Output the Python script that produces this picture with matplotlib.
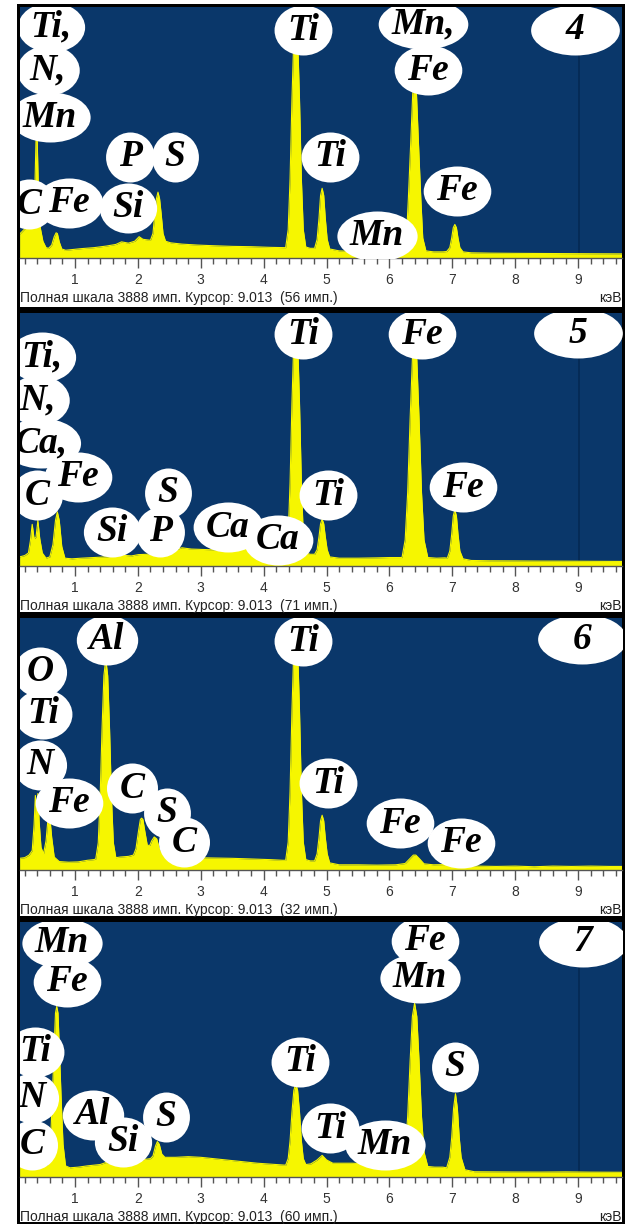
import matplotlib
matplotlib.use('Agg')
import matplotlib.pyplot as plt
from matplotlib.patches import Rectangle
from matplotlib.path import Path
from matplotlib.transforms import Affine2D
from matplotlib.ticker import MultipleLocator

plt.rcParams['font.family'] = ['Liberation Sans', 'DejaVu Sans']

# ---- спектры (энергия, кэВ / счёт, имп.) ----
energy_4 = [
    0.12, 0.17, 0.22, 0.27, 0.30,
    0.33, 0.36, 0.38, 0.39, 0.40, 0.42, 0.45,
    0.49, 0.54, 0.58, 0.63, 0.67, 0.70, 0.72, 0.75, 0.79,
    0.85, 0.95, 1.1, 1.3, 1.5, 1.65, 1.74, 1.85, 1.95, 2.02, 2.08, 2.15,
    2.20, 2.24, 2.27, 2.295, 2.32, 2.345, 2.37, 2.40, 2.44,
    2.52, 2.7, 2.95, 3.2, 3.5, 3.8, 4.1,
    4.35, 4.39, 4.42, 4.45, 4.48, 4.51, 4.54, 4.57, 4.60, 4.63, 4.67,
    4.74, 4.81, 4.85, 4.88, 4.905, 4.93, 4.955, 4.98, 5.01, 5.05,
    5.2, 5.5, 5.8, 6.0,
    6.22, 6.27, 6.30, 6.34, 6.37, 6.40, 6.43, 6.46, 6.50, 6.53, 6.58,
    6.7, 6.85, 6.91, 6.96, 6.99, 7.015, 7.04, 7.065, 7.09, 7.12, 7.17,
    7.3, 7.6, 8.0, 8.4, 8.8, 9.2, 9.69]
counts_4 = [
    370, 420, 470, 500, 480,
    520, 1000, 1800, 1950, 1800, 1000, 460,
    260, 160, 150, 200, 330, 390, 380, 250, 140,
    120, 130, 145, 160, 185, 210, 250, 230, 260, 330, 290, 280,
    275, 380, 690, 920, 1020, 920, 690, 380, 260,
    235, 215, 200, 190, 180, 175, 165,
    160, 440, 1220, 2460, 3420, 3700, 3420, 2460, 1220, 440, 170,
    150, 150, 290, 615, 970, 1080, 970, 615, 290, 140,
    110, 100, 105, 100,
    100, 310, 900, 1820, 2540, 2750, 2540, 1820, 900, 310, 110,
    95, 95, 100, 160, 310, 470, 520, 470, 310, 160, 95,
    80, 75, 72, 70, 68, 66, 64]

energy_5 = [
    0.12, 0.20, 0.26, 0.29, 0.32, 0.35, 0.38, 0.41, 0.44, 0.48,
    0.54, 0.60, 0.65, 0.69, 0.72, 0.75, 0.79, 0.84,
    0.95, 1.1, 1.3, 1.5, 1.74, 1.9, 2.01, 2.15, 2.31, 2.45,
    2.6, 2.7, 2.85, 3.0, 3.3, 3.5, 3.69, 3.85, 4.01, 4.2,
    4.35, 4.39, 4.42, 4.45, 4.48, 4.51, 4.54, 4.57, 4.60, 4.63, 4.67,
    4.74, 4.81, 4.85, 4.88, 4.905, 4.93, 4.955, 4.98, 5.01, 5.05,
    5.2, 5.5, 5.8, 6.0,
    6.20, 6.25, 6.29, 6.33, 6.365, 6.40, 6.435, 6.47, 6.51, 6.55, 6.61,
    6.75, 6.88, 6.92, 6.96, 6.99, 7.015, 7.04, 7.065, 7.09, 7.12, 7.17,
    7.3, 7.6, 8.0, 8.4, 8.8, 9.2, 9.69]
counts_5 = [
    140, 160, 200, 380, 640, 420, 440, 700, 420, 200,
    120, 140, 330, 700, 830, 700, 300, 120,
    110, 120, 130, 140, 165, 155, 175, 180, 200, 210,
    250, 280, 260, 255, 245, 240, 290, 235, 260, 210,
    205, 480, 1270, 2510, 3470, 3750, 3470, 2510, 1270, 480, 200,
    180, 180, 250, 450, 650, 720, 650, 450, 250, 140,
    120, 120, 125, 130,
    130, 400, 1130, 2290, 3180, 3450, 3180, 2290, 1130, 400, 130,
    120, 125, 120, 230, 490, 770, 860, 770, 490, 230, 110,
    85, 80, 78, 75, 74, 72, 70]

energy_6 = [
    0.12, 0.20, 0.27, 0.32, 0.35, 0.37, 0.39, 0.41, 0.43, 0.46,
    0.50, 0.54, 0.57, 0.60, 0.63, 0.67, 0.75, 0.90, 1.05, 1.2, 1.3,
    1.33, 1.37, 1.40, 1.43, 1.46, 1.49, 1.52, 1.55, 1.58, 1.61, 1.65,
    1.72, 1.85, 1.93, 1.97, 2.01, 2.04, 2.06, 2.08, 2.11, 2.15,
    2.19, 2.22, 2.26, 2.30, 2.35, 2.45, 2.6, 2.9, 3.2, 3.5, 3.8, 4.1, 4.3,
    4.35, 4.39, 4.42, 4.45, 4.48, 4.51, 4.54, 4.57, 4.60, 4.63, 4.67,
    4.74, 4.81, 4.85, 4.88, 4.905, 4.93, 4.955, 4.98, 5.01, 5.05,
    5.2, 5.5, 5.8, 6.1, 6.25, 6.32, 6.38, 6.42, 6.48, 6.55,
    6.7, 6.95, 7.05, 7.15, 7.4, 7.7, 8.0, 8.3, 8.6, 8.9, 9.2, 9.5, 9.69]
counts_6 = [
    180, 190, 230, 300, 700, 1150, 900, 1180, 750, 350,
    250, 450, 780, 820, 500, 200, 130, 120, 125, 150, 160,
    170, 420, 1120, 2170, 3000, 3250, 3000, 2170, 1120, 420, 190,
    200, 210, 230, 330, 600, 780, 800, 780, 600, 380,
    380, 450, 510, 480, 300, 220, 200, 190, 185, 180, 170, 160, 150,
    150, 430, 1210, 2460, 3420, 3700, 3420, 2460, 1210, 430, 160,
    140, 140, 250, 500, 760, 845, 760, 500, 250, 110,
    80, 80, 75, 80, 100, 170, 230, 230, 170, 95,
    80, 85, 100, 80, 60, 55, 60, 50, 60, 55, 60, 55, 55]

energy_7 = [
    0.12, 0.18, 0.23, 0.27, 0.30, 0.33, 0.38, 0.42, 0.46, 0.50, 0.55,
    0.57, 0.61, 0.64, 0.67, 0.69, 0.71, 0.73, 0.75, 0.78, 0.81, 0.85,
    0.92, 1.05, 1.2, 1.4, 1.49, 1.6, 1.74, 1.9, 2.05, 2.2,
    2.24, 2.28, 2.31, 2.34, 2.38, 2.43,
    2.6, 2.8, 3.0, 3.3, 3.6, 3.9, 4.2, 4.35,
    4.39, 4.42, 4.45, 4.48, 4.51, 4.54, 4.57, 4.60, 4.63, 4.67,
    4.75, 4.85, 4.93, 5.0, 5.1, 5.4, 5.7, 5.9, 6.1,
    6.20, 6.25, 6.29, 6.33, 6.365, 6.40, 6.435, 6.47, 6.51, 6.55, 6.61,
    6.72, 6.85, 6.91, 6.96, 6.99, 7.02, 7.05, 7.08, 7.11, 7.14, 7.20,
    7.35, 7.7, 8.0, 8.4, 8.8, 9.2, 9.69]
counts_7 = [
    210, 240, 260, 330, 360, 270, 300, 340, 280, 200, 180,
    200, 500, 1200, 2000, 2500, 2600, 2500, 2000, 1200, 500, 170,
    140, 150, 170, 190, 220, 210, 240, 250, 260, 280,
    320, 470, 540, 500, 350, 300,
    300, 310, 300, 270, 240, 210, 190, 180,
    280, 550, 990, 1320, 1420, 1320, 990, 550, 280, 190,
    200, 260, 330, 260, 210, 210, 200, 210, 200,
    180, 380, 920, 1790, 2450, 2650, 2450, 1790, 920, 380, 160,
    150, 150, 140, 300, 600, 1050, 1270, 1050, 600, 300, 110,
    80, 78, 76, 75, 78, 74, 72]

# подписи элементов: (текст, кэВ, имп.)
labels_4 = [('Ti,', 0.62, 3580), ('N,', 0.57, 2912), ('Mn', 0.60, 2184),
            ('C', 0.27, 836), ('Fe', 0.905, 852), ('Si', 1.84, 775),
            ('P', 1.875, 1565), ('S', 2.59, 1565), ('Ti', 4.627, 3530),
            ('Ti', 5.056, 1565), ('Mn', 5.80, 341), ('Mn,', 6.535, 3620),
            ('Fe', 6.615, 2912), ('Fe', 7.076, 1038)]
labels_5 = [('Ti,', 0.476, 3212), ('N,', 0.412, 2551), ('Ca,', 0.46, 1891),
            ('C', 0.396, 1091), ('Fe', 1.048, 1368), ('Si', 1.589, 523),
            ('P', 2.352, 523), ('S', 2.479, 1122), ('Ca', 3.434, 599),
            ('Ca', 4.229, 400), ('Ti', 4.627, 3560), ('Ti', 5.024, 1091),
            ('Fe', 6.519, 3560), ('Fe', 7.171, 1214)]
labels_6 = [('O', 0.444, 3055), ('Ti', 0.491, 2407), ('N', 0.444, 1620),
            ('Fe', 0.905, 1034), ('Al', 1.509, 3549), ('C', 1.907, 1265),
            ('S', 2.463, 880), ('C', 2.734, 432), ('Ti', 4.627, 3530),
            ('Ti', 5.024, 1342), ('Fe', 6.169, 725), ('Fe', 7.14, 417)]
labels_7 = [('Mn', 0.794, 3568), ('Fe', 0.873, 2974), ('Ti', 0.364, 1906),
            ('N', 0.316, 1205), ('C', 0.316, 488), ('Al', 1.287, 946),
            ('Si', 1.764, 534), ('S', 2.448, 915), ('Ti', 4.579, 1754),
            ('Ti', 5.056, 747), ('Mn', 5.931, 488), ('Fe', 6.567, 3600),
            ('Mn', 6.487, 3035), ('S', 7.044, 1678)]

panel_names = ['4', '5', '6', '7']
number_pos = [(8.953, 3532), (9.0, 3580), (9.064, 3560), (9.08, 3590)]
cursor_counts = [56, 71, 32, 60]
cursor_shown = [True, True, False, True]
full_scale = 3888
cursor_kev = 9.013

spectra = [(energy_4, counts_4, labels_4), (energy_5, counts_5, labels_5),
           (energy_6, counts_6, labels_6), (energy_7, counts_7, labels_7)]

BLUE = '#0a376a'
YELLOW = '#f6f600'
SERIF = 'Liberation Serif'
LABEL_SIZE = 27

W, H = 628, 1226
# (верх синего поля, ось, низ белой полосы) в пикселях
panels_px = [(7, 258, 307), (313, 566, 612), (618, 870, 916), (922, 1177, 1222)]
x_left, x_right = 19.5, 621.5

fig = plt.figure(figsize=(W / 100, H / 100), dpi=100)
fig.patch.set_facecolor('white')
fig.add_artist(Rectangle((17 / W, 1 - 1224 / H), (624.5 - 17) / W, (1224 - 4) / H,
                         transform=fig.transFigure, facecolor='black',
                         edgecolor='none', zorder=-2))
renderer = fig.canvas.get_renderer()


def blob_label(ax, s, x, y, extra=26, blob_h=50):
    # белое "облако" под подписью - эллиптический маркер
    t = ax.text(x, y, s, ha='center', va='center', fontsize=LABEL_SIZE,
                color='black', family=SERIF, weight='bold', style='italic',
                clip_on=True, zorder=4)
    w = t.get_window_extent(renderer).width + extra
    h = blob_h
    ell = Path.unit_circle().transformed(Affine2D().scale(w / h, 1))
    ax.plot([x], [y], marker=ell, markersize=max(w, h) * 72 / 100,
            color='white', markeredgewidth=0, zorder=3, clip_on=True)


for i, (e, c, labs) in enumerate(spectra):
    top, base, bottom = panels_px[i]
    ax = fig.add_axes([x_left / W, 1 - base / H, (x_right - x_left) / W, (base - top) / H])
    ax.set_facecolor(BLUE)
    fig.add_artist(Rectangle((x_left / W, 1 - bottom / H), (x_right - x_left) / W,
                             (bottom - base) / H, transform=fig.transFigure,
                             facecolor='white', edgecolor='none', zorder=-1))

    ax.fill_between(e, c, 0, color=YELLOW, lw=0, zorder=2)
    ax.plot(e, c, color=YELLOW, lw=0.8, zorder=2)
    if cursor_shown[i]:
        ax.axvline(cursor_kev, color='#052a55', lw=1.3, zorder=1.5)

    ax.set_xlim(0.118, 9.69)
    ax.set_ylim(0, full_scale)
    ax.set_yticks([])
    for s in ['top', 'left', 'right']:
        ax.spines[s].set_visible(False)
    ax.spines['bottom'].set_color('#555555')
    ax.spines['bottom'].set_linewidth(1)
    ax.xaxis.set_major_locator(MultipleLocator(1))
    ax.xaxis.set_minor_locator(MultipleLocator(0.2))
    ax.tick_params(axis='x', which='major', direction='out', length=7, width=1,
                   color='#555555', labelsize=10, labelcolor='#333333', pad=4)
    ax.tick_params(axis='x', which='minor', direction='out', length=4, width=1,
                   color='#555555')

    for s, x, y in labs:
        blob_label(ax, s, x, y)
    blob_label(ax, panel_names[i], number_pos[i][0], number_pos[i][1], extra=70)

    ax.annotate('Полная шкала %d имп. Курсор: %.3f  (%d имп.)'
                % (full_scale, cursor_kev, cursor_counts[i]),
                xy=(0, 0), xycoords='axes fraction', xytext=(0, -40),
                textcoords='offset pixels', ha='left', va='center',
                fontsize=10, color='#222222')
    ax.annotate('кэВ', xy=(1, 0), xycoords='axes fraction', xytext=(0, -40),
                textcoords='offset pixels', ha='right', va='center',
                fontsize=10, color='#222222')

fig.savefig('out.png', dpi=100)
